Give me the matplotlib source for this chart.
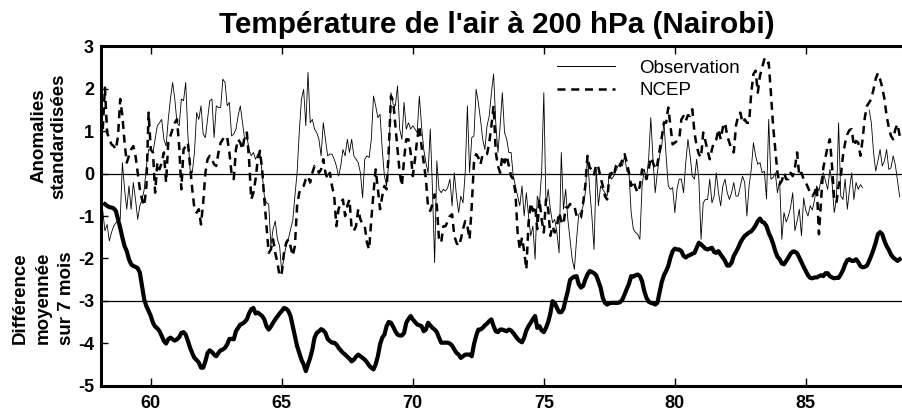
import numpy as np
import matplotlib
matplotlib.use("Agg")
import matplotlib.pyplot as plt
from matplotlib.lines import Line2D

plt.rcParams['font.family'] = ['Liberation Sans', 'DejaVu Sans']
plt.rcParams['axes.unicode_minus'] = False

# ---------------- data (monthly, years counted from 1900) ----------------
start_year = 58
obs_first_month = 2      # month index of first value (1 = Jan 1958)
diff_first_month = 3

obs = [
    -0.88, -1.35, -1.2, -1.59, -1.39, -1.24, -1.16, -1.12, -1.08,
    0.26, -0.37, -0.84, -0.29, -0.84, -0.21, -0.61, -1.08, -0.76, -0.61,
    -0.37, 0.18, 0.57, 0.54, 0.5, 0.81, 1.13, 1.2, 1.28, 0.81,
    0.65, 1.28, 1.76, 2.15, 1.76, 1.2, 1.13, 1.76, 1.72, 2.15,
    0.9, 0.1, 0.02, 0.5, 1.44, 1.28, 1.6, 0.93, 0.85, 1.28,
    1.72, 1.76, 0.85, 1.6, 1.56, 1.56, 2.23, 2.15, 1.6, 1.68,
    0.89, 0.93, 1.05, 1.36, 1.6, 1.2, 0.81, 0.89, 0.57, 0.42,
    0.5, 0.34, 0.46, 0.5, 0.02, -0.53, -0.69, -0.72, -1.71, -1.31,
    -1.12, -1.55, -1.71, -2.34, -1.94, -1.71, -1.55, -1.31, -1.12, -0.53,
    0.02, 0.97, 1.76, 1.99, 1.13, 2.39, 1.2, 1.28, 1.05, 0.97,
    0.81, 0.42, 1.2, 0.81, 0.42, 0.46, 0.46, 0.34, 0.18, -0.06,
    0.18, 0.57, 0.42, 0.81, 0.5, 0.81, 0.42, 0.34, 0.26, 0.02,
    -0.57, 0.34, 0.42, 0.38, 0.81, 1.83, 1.6, 1.32, 1.4, 0.57,
    -0.06, -0.29, 0.26, 1.91, 1.64, 1.6, 2.07, 1.05, 0.81, 1.68,
    1.05, 1.2, 1.05, 1.13, 1.05, 0.97, 1.83, 1.13, 0.57, 0.26,
    0.02, 1.05, -0.37, -2.1, 0.3, -0.37, -0.45, -0.37, -0.41, -0.33,
    -0.13, -0.76, 0.02, -0.53, -0.92, -0.53, -0.69, 0.02, 1.6, 0.02,
    0.85, 0.89, 1.99, 1.68, 1.28, 0.81, 0.57, 1.13, 1.36, 1.91,
    2.35, 1.2, 0.5, 1.13, 1.91, 0.97, 0.81, 0.5, 0.5, -0.06,
    -0.29, -0.53, -0.76, -0.29, -1.0, -0.45, -1.0, -1.47, -1.24, -2.02,
    -0.53, -0.69, 0.02, 1.91, -0.76, -0.37, -0.84, -1.16, -1.08, -1.39,
    -1.87, 0.5, -0.84, -0.37, -1.08, -1.55, -2.02, -2.26, -1.55, -0.96,
    -0.92, -0.76, -0.45, 0.42, -0.37, -1.0, -1.79, 0.1, -0.76, -0.29,
    -0.37, -0.45, -0.53, 0.02, -0.13, -0.06, 0.06, 0.18, 0.26, 0.18,
    0.42, 0.06, 0.02, -0.92, -1.31, -1.39, -1.43, -1.55, -0.29, 0.1,
    -0.13, 0.34, 1.32, 0.34, -0.45, 0.02, 0.42, 0.65, 1.24, 0.42,
    -0.29, -0.37, -0.33, -0.92, -0.37, -0.13, -0.13, -0.45, 0.26, 0.81,
    0.42, -0.06, -0.13, 0.34, -0.13, -1.55, -0.69, -0.61, -0.61, -0.13,
    -0.69, -0.53, 0.02, -0.45, -0.76, -0.29, -0.13, -0.45, -0.61, -0.45,
    -0.21, -0.53, -0.53, -0.29, -0.06, -0.21, -1.0, -0.29, 0.1, 0.73,
    0.42, 0.22, 0.26, 0.02, 0.06, -0.6, 1.28, -0.13, -0.09, 0.02,
    -0.45, -0.17, -1.55, -0.92, -1.14, -1.0, -0.8, -0.45, -1.35, -1.12,
    -0.84, -1.47, -0.57, -0.88, -1.0, -0.76, -0.86, -0.61, -0.29, -0.41,
    -0.13, 0.02, -0.17, -0.37, 0.1, -0.21, -0.92, -0.61, 1.2, -0.53,
    -0.61, -0.13, -0.84, -0.37, 0.02, -0.61, -0.21, -0.37, -0.26, -0.33,
    np.nan, np.nan, 1.5, 1.2, 0.5, 0.06, 0.3, 0.57, 0.18, 0.3,
    0.57, 0.1, 0.14, 0.42, 0.2, -0.17, -0.55,
]

ncep = [
    1.05, 2.03, 0.97, 0.81, 0.69, 0.65, 0.57, 0.89, 1.76,
    1.36, 0.73, 0.26, 0.42, 0.57, 0.65, 0.42, 0.02, -0.37, -0.61,
    -0.76, -0.29, 1.44, 0.57, 0.5, -0.45, 0.26, 0.1, 0.26, 0.5,
    -0.21, 0.73, 0.89, 1.05, 1.2, 1.28, 0.65, -0.37, 0.57, 0.65,
    0.73, 0.18, -0.37, -0.84, -0.92, -0.84, -1.2, -0.69, 0.02, 0.34,
    0.42, 0.34, 0.22, 0.18, 0.5, 0.73, 0.81, 0.89, 0.85, 0.5,
    0.0, -0.13, 0.57, 0.81, 0.73, 0.57, 0.89, 0.97, 0.34, -0.61,
    -0.45, -0.13, 0.34, 0.54, 0.1, -0.61, -1.24, -1.87, -1.79, -1.55,
    -1.87, -2.1, -2.42, -2.34, -1.87, -1.63, -1.55, -1.71, -1.94, -1.71,
    -0.76, -0.45, -0.33, -0.29, -0.13, -0.06, -0.21, 0.02, 0.18, 0.14,
    0.02, 0.1, 0.34, 0.02, -0.13, 0.02, -0.29, -0.53, -1.24, -0.84,
    -0.69, -0.61, -1.0, -0.76, -0.61, -1.31, -1.35, -1.24, -0.84, -1.08,
    -1.2, -1.24, -1.63, -1.79, -1.08, -0.45, 0.1, -0.37, -0.84, -0.53,
    -0.29, -0.37, 0.57, 1.83, 1.72, 1.13, 0.57, 0.02, -0.29, 0.34,
    0.81, 0.81, 0.5, -0.06, 0.34, 0.81, 1.13, 0.65, 0.26, -0.13,
    -0.8, -0.88, -0.72, -0.49, -0.76, -1.55, -1.63, -1.24, -1.24, -1.12,
    -1.0, -0.96, -1.47, -1.63, -1.71, -1.55, -1.31, -1.12, -1.24, -1.55,
    -0.76, 0.26, 0.46, 0.38, 0.22, 0.46, 0.46, 0.46, 0.73, 1.13,
    1.6, 0.5, 0.18, 0.02, 0.42, 0.26, 0.42, 0.18, -0.06, -0.13,
    -0.45, -1.39, -1.79, -1.51, -1.83, -2.26, -1.16, -0.69, -0.88, -0.76,
    -1.31, -0.61, -1.08, -1.39, -0.61, -0.84, -1.47, -1.24, -1.39, -1.24,
    -0.92, -1.12, -1.2, -0.8, -0.8, -0.72, -0.72, -0.76, -1.0, -1.06,
    -1.04, -0.69, -0.29, 0.42, 0.14, 0.1, -0.02, 0.22, 0.14, -0.09,
    -0.29, -0.53, -0.61, -0.09, 0.02, -0.06, 0.18, 0.26, 0.18, 0.34,
    0.46, 0.26, 0.02, -0.29, -0.17, -0.33, -0.45, -0.29, 0.1, 0.02,
    -0.13, 0.1, 0.38, 0.26, 0.1, 0.22, 0.54, 0.85, 1.2, 1.2,
    1.56, 1.13, 0.69, 0.73, 0.77, 0.81, 1.28, 1.36, 1.24, 1.38,
    1.36, 1.52, 0.97, 0.65, 0.46, 0.38, 0.97, 0.77, 0.54, 0.34,
    0.57, 0.77, 0.81, 1.05, 0.81, 1.09, 1.2, 0.89, 0.73, 0.57,
    0.5, 1.13, 1.36, 1.44, 1.2, 1.28, 1.2, 1.2, 1.91, 2.35,
    2.43, 1.91, 2.31, 2.5, 2.7, 2.58, 2.62, 1.91, 1.13, 0.57,
    0.02, -0.25, -0.17, 0.02, -0.13, -0.13, 0.02, -0.06, 0.14, 0.5,
    -0.06, 0.02, -0.13, -0.21, -0.33, -0.45, -0.53, -0.45, -0.29, -1.43,
    -0.61, 0.14, 0.38, 0.65, 0.81, 0.18, -0.61, -0.69, -0.29, -0.06,
    0.42, 0.73, 0.93, 1.03, 1.05, 0.65, 0.77, 0.73, 0.42, 0.81,
    1.32, 1.6, 1.68, 1.76, 1.99, 2.24, 2.37, 2.23, 2.03, 1.76,
    1.36, 1.09, 0.89, 0.81, 1.05, 1.17, 0.89,
]

# 7-month running mean of the difference, as read on the lower scale (-3 = 0)
diff7 = [
    -0.72, -0.76, -0.79, -0.8, -0.82, -0.88, -1.08, -1.28,
    -1.51, -1.71, -1.83, -2.02, -2.14, -2.18, -2.2, -2.23, -2.34, -2.65,
    -2.97, -3.13, -3.24, -3.36, -3.52, -3.61, -3.65, -3.72, -3.83, -3.95,
    -4.01, -3.91, -3.87, -3.91, -3.94, -3.91, -3.86, -3.76, -3.74, -3.8,
    -3.95, -4.11, -4.24, -4.35, -4.4, -4.46, -4.58, -4.58, -4.43, -4.23,
    -4.17, -4.21, -4.27, -4.31, -4.23, -4.17, -4.15, -4.11, -4.03, -3.9,
    -3.9, -3.91, -3.72, -3.64, -3.56, -3.54, -3.5, -3.44, -3.3, -3.2,
    -3.17, -3.3, -3.28, -3.32, -3.36, -3.44, -3.6, -3.68, -3.61, -3.52,
    -3.44, -3.37, -3.3, -3.24, -3.17, -3.19, -3.24, -3.36, -3.6, -3.83,
    -4.07, -4.23, -4.39, -4.5, -4.66, -4.5, -4.35, -4.15, -3.87, -3.76,
    -3.72, -3.67, -3.7, -3.76, -3.9, -3.95, -3.99, -3.99, -4.03, -4.11,
    -4.17, -4.23, -4.27, -4.32, -4.37, -4.43, -4.39, -4.32, -4.27, -4.31,
    -4.35, -4.39, -4.45, -4.53, -4.58, -4.62, -4.5, -4.31, -4.03, -3.87,
    -3.8, -3.6, -3.5, -3.52, -3.61, -3.72, -3.8, -3.82, -3.82, -3.76,
    -3.52, -3.43, -3.36, -3.44, -3.5, -3.56, -3.58, -3.6, -3.72, -3.68,
    -3.52, -3.58, -3.64, -3.68, -3.74, -3.87, -3.99, -3.99, -3.99, -3.99,
    -4.01, -4.06, -4.15, -4.23, -4.27, -4.35, -4.31, -4.27, -4.27, -4.27,
    -4.31, -4.03, -3.83, -3.68, -3.68, -3.64, -3.58, -3.54, -3.48, -3.44,
    -3.6, -3.72, -3.74, -3.68, -3.68, -3.7, -3.72, -3.68, -3.7, -3.76,
    -3.83, -3.9, -3.95, -3.98, -3.87, -3.7, -3.6, -3.52, -3.43, -3.36,
    -3.64, -3.6, -3.7, -3.74, -3.64, -3.5, -3.3, -3.01, -3.05, -3.17,
    -3.27, -3.27, -3.19, -2.97, -2.77, -2.51, -2.46, -2.43, -2.42, -2.61,
    -2.69, -2.65, -2.5, -2.38, -2.3, -2.32, -2.35, -2.4, -2.54, -2.69,
    -2.93, -3.05, -3.09, -3.06, -3.05, -3.05, -3.05, -3.05, -3.03, -2.97,
    -2.85, -2.72, -2.6, -2.42, -2.43, -2.4, -2.38, -2.42, -2.54, -2.77,
    -2.93, -3.02, -3.05, -3.06, -3.09, -3.05, -2.81, -2.56, -2.4, -2.3,
    -2.18, -1.98, -1.83, -1.77, -1.79, -1.79, -1.83, -1.94, -1.98, -1.94,
    -1.92, -1.89, -1.87, -1.75, -1.63, -1.67, -1.72, -1.77, -1.79, -1.77,
    -1.75, -1.85, -1.87, -1.83, -1.91, -1.98, -2.06, -2.17, -2.17, -2.1,
    -1.94, -1.85, -1.75, -1.63, -1.54, -1.47, -1.43, -1.39, -1.36, -1.3,
    -1.22, -1.12, -1.06, -1.14, -1.16, -1.24, -1.4, -1.51, -1.65, -1.83,
    -1.96, -2.02, -2.12, -2.14, -2.06, -1.98, -1.89, -1.84, -1.84, -1.88,
    -1.98, -2.09, -2.2, -2.3, -2.4, -2.46, -2.47, -2.45, -2.45, -2.42,
    -2.4, -2.42, -2.35, -2.35, -2.42, -2.45, -2.47, -2.46, -2.46, -2.38,
    -2.28, -2.14, -2.04, -2.02, -2.06, -2.06, -2.02, -2.09, -2.18, -2.21,
    -2.2, -2.17, -2.06, -1.93, -1.79, -1.63, -1.43, -1.38, -1.43, -1.59,
    -1.71, -1.8, -1.91, -1.98, -2.02, -2.06, -2.02,
]

x_ticks = [60, 65, 70, 75, 80, 85]
y_ticks = [-5, -4, -3, -2, -1, 0, 1, 2, 3]
series_labels = ["Observation", "NCEP"]
title = "Température de l'air à 200 hPa (Nairobi)"
ylabel_top = "Anomalies\nstandardisées"
ylabel_bottom = "Différence\nmoyennée\nsur 7 mois"

t_obs = start_year + (obs_first_month + np.arange(len(obs))) / 12.0
t_ncep = start_year + (obs_first_month + np.arange(len(ncep))) / 12.0
t_diff = start_year + (diff_first_month + np.arange(len(diff7))) / 12.0

# ---------------- figure ----------------
fig = plt.figure(figsize=(9.02, 4.15), dpi=100)
ax = fig.add_axes([101 / 902, 29.5 / 415, 801 / 902, 339 / 415])

ax.axhline(0, color='black', lw=0.9, zorder=1)
ax.axhline(-3, color='black', lw=0.9, zorder=1)

ax.plot(t_obs, obs, color='black', lw=0.6, zorder=2)
ax.plot(t_ncep, ncep, color='black', lw=1.8, ls=(0, (3.2, 2.3)), zorder=3)
ax.plot(t_diff, diff7, color='black', lw=3.0, zorder=4, solid_joinstyle='round')

ax.set_xlim(58.1, 88.67)
ax.set_ylim(-5, 3)
ax.set_xticks(x_ticks)
ax.set_yticks(y_ticks)
ax.set_xticklabels([str(v) for v in x_ticks], fontweight='bold', fontsize=13)
ax.set_yticklabels([str(v) for v in y_ticks], fontweight='bold', fontsize=13)
ax.tick_params(axis='x', direction='in', top=True, length=6, width=1, pad=7)
ax.tick_params(axis='y', direction='in', length=5, width=1, pad=5)

ax.spines['right'].set_visible(False)
for s in ['left', 'bottom', 'top']:
    ax.spines[s].set_linewidth(2.2)

handles = [Line2D([], [], color='black', lw=0.7),
           Line2D([], [], color='black', lw=1.8, ls=(0, (3.2, 2.3)))]
ax.legend(handles, series_labels, loc='upper left',
          bbox_to_anchor=(0.569, 0.962), frameon=False, fontsize=13.5,
          handlelength=3.1, handletextpad=1.3, labelspacing=0.3,
          borderpad=0, borderaxespad=0)

fig.text(0.551, 0.92, title, ha='center', va='baseline',
         fontsize=21.3, fontweight='bold')
fig.text(0.054, 0.672, ylabel_top, rotation=90, ha='center', va='center',
         fontsize=13.5, fontweight='bold', linespacing=1.2, multialignment='center')
fig.text(0.048, 0.282, ylabel_bottom, rotation=90, ha='center', va='center',
         fontsize=13.5, fontweight='bold', linespacing=1.45, multialignment='center')

fig.savefig("out.png", dpi=100)
